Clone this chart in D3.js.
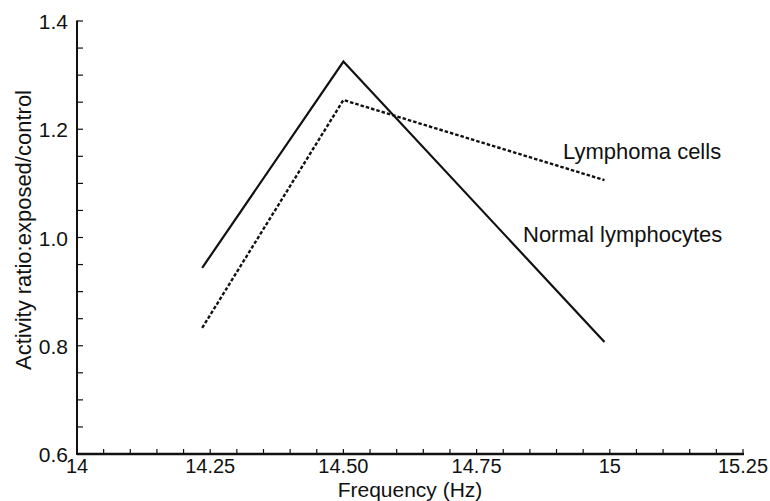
<!DOCTYPE html>
<html><head><meta charset="utf-8">
<script src="https://cdn.jsdelivr.net/npm/d3@7"></script>
<style>body{margin:0;background:#fff}svg{display:block}text{font-family:"Liberation Sans",Arial,sans-serif;fill:#111}</style>
</head><body><svg id="c" width="770" height="501"></svg>
<script>
const normalX = [14.235, 14.5, 14.99];
const normalY = [0.944, 1.325, 0.807];
const lymphomaX = [14.235, 14.5, 14.99];
const lymphomaY = [0.833, 1.254, 1.106];
const xTickLabels = ["14", "14.25", "14.50", "14.75", "15", "15.25"];
const xTickValues = [14, 14.25, 14.5, 14.75, 15, 15.25];
const yTickLabels = ["0.6", "0.8", "1.0", "1.2", "1.4"];
const yTickValues = [0.6, 0.8, 1.0, 1.2, 1.4];

const svg = d3.select("#c");
const x = d3.scaleLinear().domain([14, 15.25]).range([77, 743]);
const y = d3.scaleLinear().domain([0.6, 1.4]).range([454, 21]);

const xMinor = d3.range(1, 26).map(i => 14 + i * 0.05);
const yMinor = d3.range(1, 17).map(i => 0.6 + i * 0.05);

const g = svg.append("g");
g.selectAll(".xt").data(xMinor).join("line")
  .attr("x1", d => x(d)).attr("x2", d => x(d))
  .attr("y1", y(0.6)).attr("y2", y(0.6) - 5)
  .attr("stroke", "#111").attr("stroke-width", 1.2);
g.selectAll(".yt").data(yMinor).join("line")
  .attr("x1", x(14)).attr("x2", x(14) + 6)
  .attr("y1", d => y(d)).attr("y2", d => y(d))
  .attr("stroke", "#111").attr("stroke-width", 1.2);

g.append("line").attr("x1", x(14)).attr("x2", x(15.25) + 1).attr("y1", y(0.6)).attr("y2", y(0.6))
  .attr("stroke", "#111").attr("stroke-width", 2.6);
g.append("line").attr("x1", x(14)).attr("x2", x(14)).attr("y1", y(0.6) + 1).attr("y2", y(1.4) - 0.5)
  .attr("stroke", "#111").attr("stroke-width", 2);

g.selectAll(".xl").data(xTickValues).join("text")
  .attr("x", d => x(d)).attr("y", 472.5).attr("text-anchor", "middle")
  .attr("font-size", 20).text((d, i) => xTickLabels[i]);
g.selectAll(".yl").data(yTickValues).join("text")
  .attr("x", 68).attr("y", d => y(d) + 8).attr("text-anchor", "end")
  .attr("font-size", 21).text((d, i) => yTickLabels[i]);

svg.append("text").attr("x", 410).attr("y", 496.5).attr("text-anchor", "middle")
  .attr("font-size", 21).text("Frequency (Hz)");
svg.append("text").attr("transform", "translate(31,230) rotate(-90)").attr("text-anchor", "middle")
  .attr("font-size", 22).text("Activity ratio:exposed/control");

const line = d3.line().x(d => x(d[0])).y(d => y(d[1]));
svg.append("path").datum(normalX.map((d, i) => [d, normalY[i]]))
  .attr("d", line).attr("fill", "none").attr("stroke", "#111").attr("stroke-width", 2.2);
svg.append("path").datum(lymphomaX.map((d, i) => [d, lymphomaY[i]]))
  .attr("d", line).attr("fill", "none").attr("stroke", "#111").attr("stroke-width", 2.4)
  .attr("stroke-dasharray", "3.5,2");

svg.append("text").attr("x", 563).attr("y", 159).attr("font-size", 22).text("Lymphoma cells");
svg.append("text").attr("x", 523).attr("y", 242).attr("font-size", 22).text("Normal lymphocytes");
</script></body></html>
